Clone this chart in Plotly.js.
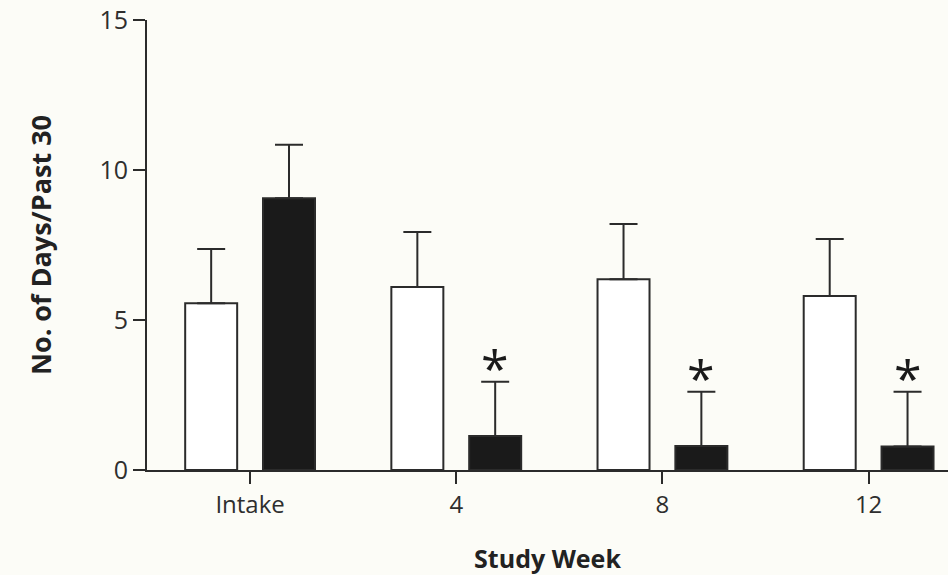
<!DOCTYPE html>
<html>
<head>
<meta charset="utf-8">
<script src="https://cdn.plot.ly/plotly-3.0.1.min.js"></script>
<style>
  html, body { margin: 0; padding: 0; background: #fcfcf7; }
  #chart { width: 948px; height: 575px; }
</style>
</head>
<body>
<div id="chart"></div>
<script>
// ---- data ----
const weeks = ["Intake", "4", "8", "12"];
const openMeans = [5.56, 6.1, 6.36, 5.8];
const openErr = [1.81, 1.83, 1.84, 1.9];
const filledMeans = [9.06, 1.13, 0.8, 0.78];
const filledErr = [1.78, 1.81, 1.81, 1.83];
const noLowerErr = [0, 0, 0, 0];
const significant = [false, true, true, true];

const ink = "#2b2b2b";
const bg = "#fcfcf7";
const barGap = 0.245;
const barGroupGap = 0.332;

const xIdx = weeks.map((w, i) => i);

const traces = [
  {
    type: "bar",
    name: "open",
    x: xIdx,
    y: openMeans,
    marker: { color: "#ffffff", line: { color: ink, width: 2 } },
    error_y: { type: "data", symmetric: false, array: openErr, arrayminus: noLowerErr,
               color: ink, thickness: 2, width: 14 },
    hoverinfo: "y"
  },
  {
    type: "bar",
    name: "filled",
    x: xIdx,
    y: filledMeans,
    marker: { color: "#1a1a1a", line: { color: ink, width: 2 } },
    error_y: { type: "data", symmetric: false, array: filledErr, arrayminus: noLowerErr,
               color: ink, thickness: 2, width: 14 },
    hoverinfo: "y"
  }
];

// asterisks above the filled bars (offset = half of a bar slot)
const slotOffset = (1 - barGap) / 4;
const annotations = [];
weeks.forEach((w, i) => {
  if (significant[i]) {
    annotations.push({
      x: i + slotOffset, y: filledMeans[i] + filledErr[i],
      xref: "x", yref: "y",
      text: "*", showarrow: false,
      yanchor: "middle", yshift: 14,
      font: { family: "Open Sans", size: 50, color: "#1a1a1a" }
    });
  }
});

const layout = {
  width: 948, height: 575,
  paper_bgcolor: bg, plot_bgcolor: bg,
  margin: { l: 147, r: 0, t: 20, b: 105 },
  barmode: "group",
  bargap: barGap,
  bargroupgap: barGroupGap,
  showlegend: false,
  font: { family: "Open Sans", color: "#2e2e2e" },
  xaxis: {
    type: "linear",
    range: [-0.5, 3.385],
    tickmode: "array",
    tickvals: xIdx,
    ticktext: weeks,
    ticks: "outside", ticklen: 12, tickwidth: 2, tickcolor: ink,
    showline: true, linecolor: ink, linewidth: 2,
    showgrid: false, zeroline: false,
    tickfont: { family: "Open Sans", size: 24, color: "#2e2e2e" },
    title: { text: "Study Week", standoff: 32,
             font: { family: "Open Sans", size: 25, color: "#222222", weight: "bold" } }
  },
  yaxis: {
    range: [0, 15],
    tickvals: [0, 5, 10, 15],
    ticks: "outside", ticklen: 12, tickwidth: 2, tickcolor: ink,
    showline: true, linecolor: ink, linewidth: 2,
    showgrid: false, zeroline: false,
    tickfont: { family: "Open Sans", size: 25, color: "#2e2e2e" },
    title: { text: "No. of Days/Past 30", standoff: 40,
             font: { family: "Open Sans", size: 27, color: "#222222", weight: "bold" } }
  },
  annotations: annotations
};

Plotly.newPlot("chart", traces, layout, { displayModeBar: false, staticPlot: true });
</script>
</body>
</html>
